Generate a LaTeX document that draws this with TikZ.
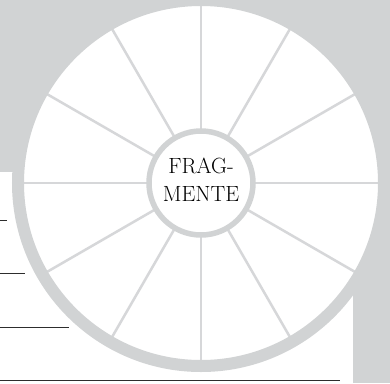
\documentclass[tikz,border=0pt]{standalone}
\usepackage{tikz}
\usepackage{xcolor}
\definecolor{panel}{RGB}{209,211,212}
\definecolor{spokegray}{RGB}{214,215,217}
\definecolor{rulegray}{RGB}{45,45,45}

\begin{document}
\begin{tikzpicture}[x=1pt, y=-1pt]
  \useasboundingbox (0,0) rectangle (390,383);
  \fill[panel] (0,0) rectangle (390,383);
  \fill[white] (0,172) rectangle (353,383);
  \draw[rulegray, line width=1pt] (0,220) -- (7,220);
  \draw[rulegray, line width=1pt] (0,273) -- (25,273);
  \draw[rulegray, line width=1pt] (0,327) -- (69,327);
  \draw[rulegray, line width=1pt] (0,380) -- (340,380);
  \coordinate (c) at (201,183);
  \fill[white] (c) circle (183);
  \foreach \a in {0,30,...,330}
    \draw[spokegray, line width=2.5pt] ([shift={(\a:50pt)}]c) -- ([shift={(\a:180pt)}]c);
  \draw[panel, line width=12pt] (c) circle (183);
  \node[circle, draw=panel, line width=5.5pt, fill=white, minimum size=104pt,
        inner sep=0pt] (hub) at (c) {};
  \node[align=center, font=\fontsize{22}{28}\selectfont] (title) at ([yshift=3pt]c) {FRAG-\\MENTE};
\end{tikzpicture}
\end{document}
